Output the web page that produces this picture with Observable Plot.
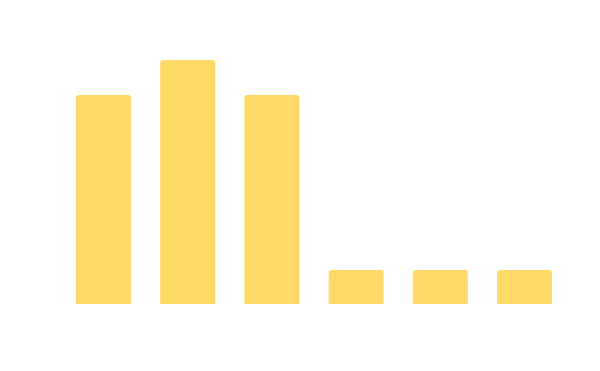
<!DOCTYPE html>
<html>
<head>
<meta charset="utf-8">
<script src="https://cdn.jsdelivr.net/npm/d3@7"></script>
<script src="https://cdn.jsdelivr.net/npm/@observablehq/plot@0.6"></script>
<style>
  html, body { margin: 0; padding: 0; background: #fff; }
</style>
</head>
<body>
<div id="chart"></div>
<script>
const categories = ["A", "B", "C", "D", "E", "F"];
const values = [6, 7, 6, 1, 1, 1];

const data = categories.map((c, i) => ({category: c, value: values[i]}));
const barColor = "#FFD966";

const chart = Plot.plot({
  width: 600,
  height: 371,
  marginLeft: 46.8,
  marginRight: 18.8,
  marginTop: 60,
  marginBottom: 66,
  x: {domain: categories, padding: 0.3468, round: false, axis: null},
  y: {domain: [0, 7], axis: null},
  marks: [
    Plot.barY(data, {x: "category", y: "value", fill: barColor, ry1: 3, insetBottom: 1})
  ]
});
document.getElementById("chart").appendChild(chart);
</script>
</body>
</html>
